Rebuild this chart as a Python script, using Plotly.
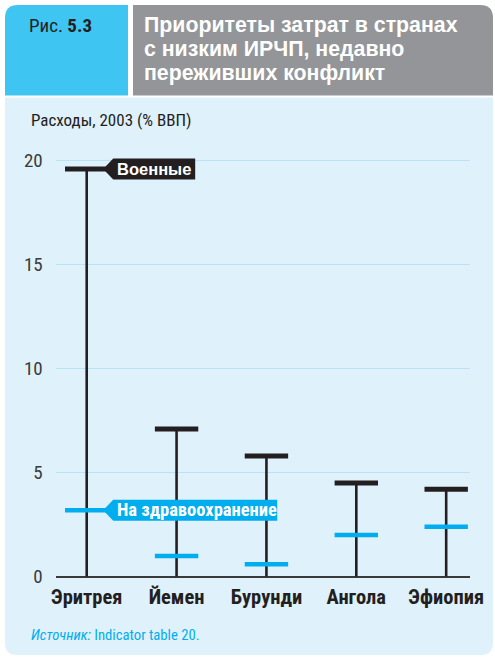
import plotly.graph_objects as go

# ---- data ----
countries = ["Эритрея", "Йемен", "Бурунди", "Ангола", "Эфиопия"]
military = [19.6, 7.1, 5.8, 4.5, 4.2]
health = [3.2, 1.0, 0.6, 2.0, 2.4]
y_ticks = [0, 5, 10, 15, 20]
title_lines = ["Приоритеты затрат в странах", "с низким ИРЧП, недавно", "переживших конфликт"]

# ---- layout helpers (pixels -> paper) ----
W, H = 495, 661
def px(x):
    return x / W
def py(y):
    return 1 - y / H

X_LEFT, X_RIGHT = 55.7, 470.0
XR = [-0.345, 4.265]
PPX = (X_RIGHT - X_LEFT) / (XR[1] - XR[0])
Y0_PIX, Y_TOP_PIX = 576.7, 150.3
YR = [0, 20.5]
PPY = (Y0_PIX - Y_TOP_PIX) / (YR[1] - YR[0])

NARROW = "Liberation Sans Narrow, Arial Narrow, Roboto Condensed, Roboto, sans-serif"
BOLD = "Liberation Sans, Arial, Helvetica, sans-serif"
BLACK = "#231f20"
BLUE = "#00aeef"

fig = go.Figure()

# vertical stems
xs, ys = [], []
for i, v in enumerate(military):
    xs += [i, i, None]
    ys += [0, v, None]
fig.add_trace(go.Scatter(x=xs, y=ys, mode="lines",
                         line=dict(color=BLACK, width=2.6),
                         hoverinfo="skip", showlegend=False, cliponaxis=False))
# military caps
fig.add_trace(go.Scatter(x=list(range(len(countries))), y=military, mode="markers",
                         marker=dict(symbol="line-ew", size=31,
                                     line=dict(color=BLACK, width=5)),
                         showlegend=False, cliponaxis=False))
# health caps
fig.add_trace(go.Scatter(x=list(range(len(countries))), y=health, mode="markers",
                         marker=dict(symbol="line-ew", size=31,
                                     line=dict(color=BLUE, width=4.5)),
                         showlegend=False, cliponaxis=False))

shapes = []
annotations = []

def rounded_rect(x0, y0, x1, y1, r, corners, color):
    rx, ry = r / W, r / H
    X0, X1 = px(x0), px(x1)
    Y0, Y1 = py(y0), py(y1)
    p = []
    if "tl" in corners:
        p.append(f"M {X0},{Y0 - ry} Q {X0},{Y0} {X0 + rx},{Y0}")
    else:
        p.append(f"M {X0},{Y0}")
    if "tr" in corners:
        p.append(f"L {X1 - rx},{Y0} Q {X1},{Y0} {X1},{Y0 - ry}")
    else:
        p.append(f"L {X1},{Y0}")
    if "br" in corners:
        p.append(f"L {X1},{Y1 + ry} Q {X1},{Y1} {X1 - rx},{Y1}")
    else:
        p.append(f"L {X1},{Y1}")
    if "bl" in corners:
        p.append(f"L {X0 + rx},{Y1} Q {X0},{Y1} {X0},{Y1 + ry}")
    else:
        p.append(f"L {X0},{Y1}")
    p.append("Z")
    return dict(type="path", xref="paper", yref="paper", path=" ".join(p),
                fillcolor=color, line=dict(width=0), layer="below")

shapes.append(rounded_rect(5, 5, 128, 95.5, 13, {"tl"}, "#3ec5f1"))
shapes.append(rounded_rect(133, 5, 493, 95.5, 13, {"tr"}, "#939598"))
shapes.append(rounded_rect(5, 97.5, 493, 655, 12, {"bl", "br"}, "#dff1fb"))

def callout(i, v, width_px, color, text, family, fsize):
    dx = 1 / PPX
    dy = 1 / PPY
    tip_x = i + 16.5 * dx
    base_x = tip_x + 10 * dx
    right_x = tip_x + width_px * dx
    h = 10.5 * dy
    path = (f"M {tip_x},{v} L {base_x},{v + h} L {right_x},{v + h} "
            f"L {right_x},{v - h} L {base_x},{v - h} Z")
    shapes.append(dict(type="path", xref="x", yref="y", path=path,
                       fillcolor=color, line=dict(width=0), layer="above"))
    annotations.append(dict(x=base_x + 1.5 * dx, y=v, xref="x", yref="y",
                            xanchor="left", yanchor="middle", showarrow=False,
                            text=f"<b>{text}</b>",
                            font=dict(family=family, size=fsize, color="white")))

callout(0, military[0], 92, BLACK, "Военные", BOLD, 16.5)
callout(0, health[0], 174, BLUE, "На здравоохранение", NARROW, 18.5)

# header texts
annotations.append(dict(x=px(27), y=py(25), xref="paper", yref="paper",
                        xanchor="left", yanchor="middle", showarrow=False,
                        text="Рис. <b>5.3</b>",
                        font=dict(family=NARROW, size=19, color=BLACK)))
for k, line in enumerate(title_lines):
    annotations.append(dict(x=px(142), y=py(25 + 24 * k), xref="paper", yref="paper",
                            xanchor="left", yanchor="middle", showarrow=False,
                            text=f"<b>{line}</b>",
                            font=dict(family=BOLD, size=21.3, color="white")))
annotations.append(dict(x=px(29), y=py(120), xref="paper", yref="paper",
                        xanchor="left", yanchor="middle", showarrow=False,
                        text="Расходы, 2003 (% ВВП)",
                        font=dict(family=NARROW, size=17, color=BLACK)))
annotations.append(dict(x=px(29), y=py(635), xref="paper", yref="paper",
                        xanchor="left", yanchor="middle", showarrow=False,
                        text="<i>Источник:</i> Indicator table 20.",
                        font=dict(family=NARROW, size=14.7, color=BLUE)))

fig.update_layout(
    width=W, height=H,
    margin=dict(l=0, r=0, t=0, b=0, pad=0, autoexpand=False),
    paper_bgcolor="white", plot_bgcolor="rgba(0,0,0,0)",
    shapes=shapes, annotations=annotations, showlegend=False,
    xaxis=dict(domain=[px(X_LEFT), px(X_RIGHT)], range=XR, automargin=False,
               tickvals=list(range(len(countries))),
               ticktext=[f"<b>{c}</b>" for c in countries],
               tickfont=dict(family=NARROW, size=20.5, color=BLACK),
               showgrid=False, zeroline=False, showline=False,
               ticks="", ticklabelstandoff=6, fixedrange=True),
    yaxis=dict(domain=[py(Y0_PIX), py(Y_TOP_PIX)], range=YR, automargin=False,
               tickvals=y_ticks, ticktext=[str(t) for t in y_ticks],
               tickfont=dict(family=NARROW, size=19, color="#3a3a3a"),
               showgrid=True, gridcolor="#b9e2f6", gridwidth=1.2,
               zeroline=True, zerolinecolor="#3a3a3a", zerolinewidth=1.8,
               showline=False, ticks="", ticklabelstandoff=12, fixedrange=True),
)

fig.write_html("out.html", config={"displayModeBar": False},
               post_script="document.body.style.margin='0';document.body.style.padding='0';"
                           "document.documentElement.style.overflow='hidden';")
